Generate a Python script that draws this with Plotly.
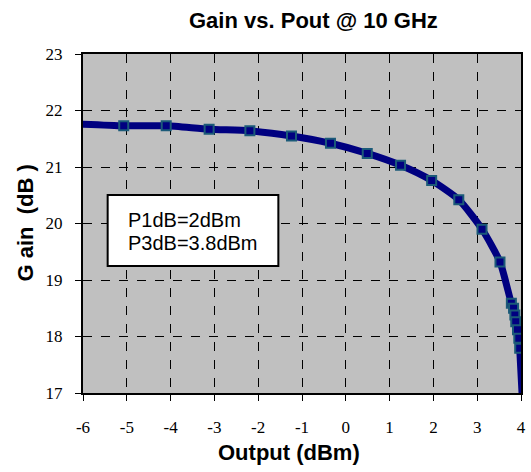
import plotly.graph_objects as go

# Data
pout = [-6.07, -5.07, -4.10, -3.12, -2.19, -1.24, -0.35, 0.49, 1.25, 1.96, 2.58, 3.11,
        3.52, 3.78, 3.83, 3.86, 3.88, 3.92, 3.95, 3.97, 4.03]
gain = [21.76, 21.73, 21.73, 21.67, 21.64, 21.55, 21.42, 21.24, 21.03, 20.76, 20.42, 19.90,
        19.32, 18.59, 18.50, 18.38, 18.26, 18.12, 17.97, 17.79, 16.90]
has_marker = [False] + [True] * 19 + [False]

x_ticks = [-6, -5, -4, -3, -2, -1, 0, 1, 2, 3, 4]
y_ticks = [17, 18, 19, 20, 21, 22, 23]

title_text = "Gain vs. Pout @ 10 GHz"
x_title = "Output (dBm)"
y_title = "G ain  (dB )"
note_lines = ["P1dB=2dBm", "P3dB=3.8dBm"]

navy = "#000080"
SERIF = "Liberation Serif"
SANS = "Liberation Sans"

fig = go.Figure()
fig.add_trace(go.Scatter(
    x=pout, y=gain, mode="lines",
    line=dict(color=navy, width=7, shape="spline", smoothing=0.6),
    hoverinfo="skip", showlegend=False,
))
mx = [x for x, m in zip(pout, has_marker) if m]
my = [y for y, m in zip(gain, has_marker) if m]
fig.add_trace(go.Scatter(
    x=mx, y=my, mode="markers",
    marker=dict(symbol="square", size=9, color=navy,
                line=dict(color="#1b5a78", width=2)),
    showlegend=False,
))

bold_font = dict(family=SANS, size=22, color="black")
tick_font = dict(family=SERIF, size=17, color="black")

axis_common = dict(
    showgrid=True, gridcolor="black", griddash="dash", gridwidth=1,
    showline=True, linecolor="black", linewidth=2, mirror=True,
    ticks="outside", ticklen=6, tickcolor="black", tickwidth=1,
    zeroline=False, tickfont=tick_font,
)

fig.update_layout(
    width=531, height=472,
    margin=dict(l=83, r=5, t=54, b=79),
    paper_bgcolor="white",
    plot_bgcolor="#c0c0c0",
    font=dict(family=SERIF, size=17, color="black"),
    xaxis=dict(range=[-6, 4], tickmode="array", tickvals=x_ticks,
               ticktext=[str(v) for v in x_ticks],
               ticklabelstandoff=12, **axis_common),
    yaxis=dict(range=[17, 23], tickmode="array", tickvals=y_ticks,
               ticktext=[str(v) for v in y_ticks],
               ticklabelstandoff=9, **axis_common),
    shapes=[
        dict(type="rect", xref="x", yref="y", x0=-5.437, x1=-1.54, y0=19.248, y1=20.504,
             fillcolor="white", line=dict(color="black", width=2), layer="above"),
    ],
    annotations=[
        dict(text="<b>" + title_text + "</b>", xref="paper", yref="paper",
             x=0.526, y=1.0, xanchor="center", yanchor="middle", yshift=34,
             showarrow=False, font=bold_font),
        dict(text="<b>" + x_title + "</b>", xref="paper", yref="paper",
             x=0.4707, y=0.0, xanchor="center", yanchor="middle", yshift=-59,
             showarrow=False, font=bold_font),
        dict(text="<b>" + y_title + "</b>", xref="paper", yref="paper",
             x=0.0, y=0.5, xshift=-58, showarrow=False, font=bold_font, textangle=-90,
             xanchor="center", yanchor="middle"),
        dict(text=note_lines[0], xref="x", yref="y", x=-5.009, y=20.062,
             xanchor="left", yanchor="middle", showarrow=False,
             font=dict(family=SANS, size=20, color="black")),
        dict(text=note_lines[1], xref="x", yref="y", x=-5.009, y=19.655,
             xanchor="left", yanchor="middle", showarrow=False,
             font=dict(family=SANS, size=20, color="black")),
    ],
)

fig.write_html("out.html")
